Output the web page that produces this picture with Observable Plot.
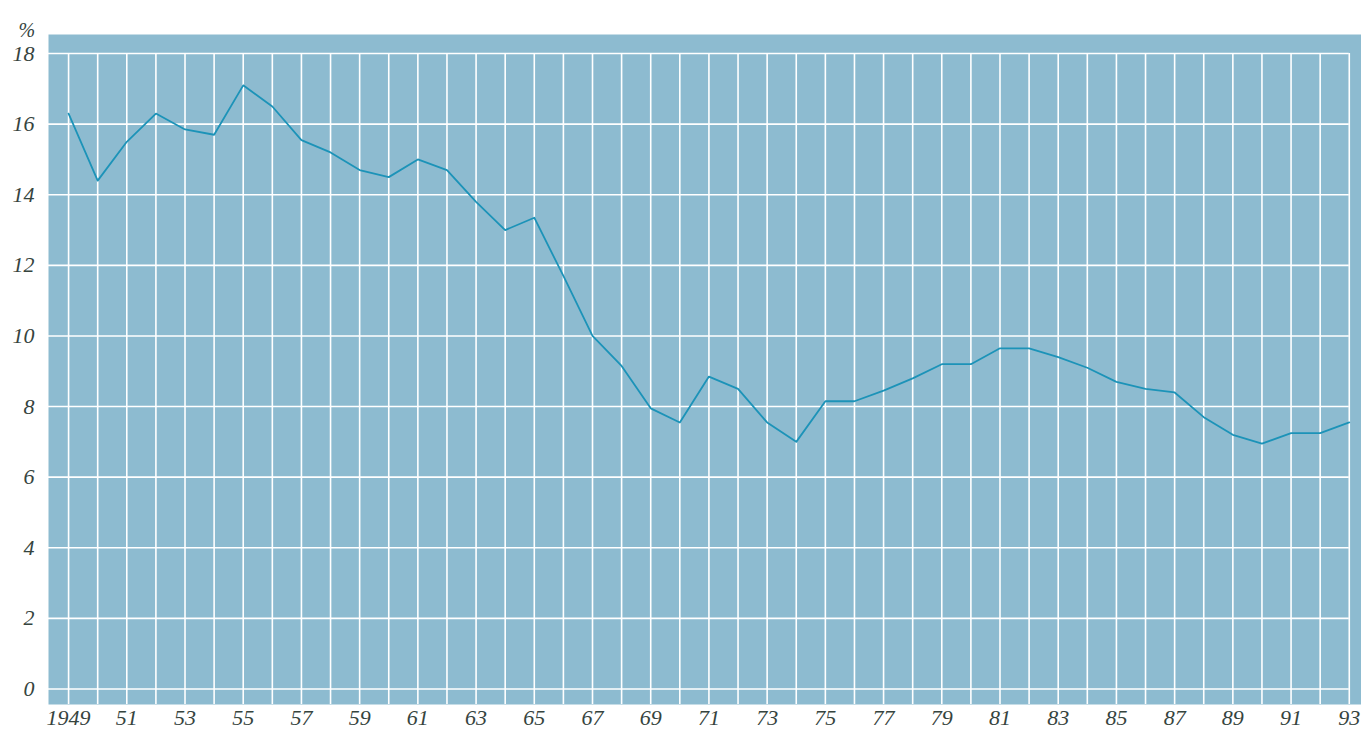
<!DOCTYPE html>
<html>
<head>
<meta charset="utf-8">
<script src="https://cdn.jsdelivr.net/npm/d3@7"></script>
<script src="https://cdn.jsdelivr.net/npm/@observablehq/plot@0.6"></script>
<style>
  html, body { margin: 0; padding: 0; background: #ffffff; }
</style>
</head>
<body>
<div id="chart"></div>
<script>
const years = d3.range(1949, 1994);
const values = [
  16.3, 14.4, 15.5, 16.3, 15.85, 15.7, 17.1, 16.5, 15.55, 15.2,
  14.7, 14.5, 15.0, 14.7, 13.8, 13.0, 13.35, 11.7, 10.0, 9.15,
  7.95, 7.55, 8.85, 8.5, 7.55, 7.0, 8.15, 8.15, 8.45, 8.8,
  9.2, 9.2, 9.65, 9.65, 9.4, 9.1, 8.7, 8.5, 8.4, 7.7,
  7.2, 6.95, 7.25, 7.25, 7.55
];
const yTicks = [0, 2, 4, 6, 8, 10, 12, 14, 16, 18];
const xTicks = d3.range(1949, 1994, 2);
const xTickLabels = xTicks.map(y => y === 1949 ? "1949" : String(y % 100).padStart(2, "0"));
const unitLabel = "%";

const data = years.map((year, i) => ({year, value: values[i]}));

const xLo = 1948.31, xHi = 1993.42;
const yLo = -0.44, yHi = 18.54;
const font = "'Liberation Serif', 'DejaVu Serif', serif";
const textColor = "#36443e";

const chart = Plot.plot({
  width: 1361,
  height: 731,
  marginLeft: 48,
  marginRight: 0,
  marginTop: 34,
  marginBottom: 27,
  style: {fontFamily: font, fontStyle: "italic", color: textColor, background: "#ffffff"},
  x: {type: "linear", domain: [xLo, xHi]},
  y: {domain: [yLo, yHi]},
  marks: [
    Plot.frame({fill: "#8dbbd0", stroke: "none"}),
    Plot.ruleX(years, {x: d => d, y1: yTicks[yTicks.length - 1], y2: yLo, stroke: "#ffffff", strokeWidth: 1.6}),
    Plot.ruleY(yTicks, {y: d => d, x1: xLo, x2: years[years.length - 1], stroke: "#ffffff", strokeWidth: 1.6}),
    Plot.line(data, {x: "year", y: "value", stroke: "#1c93b8", strokeWidth: 1.8}),
    Plot.axisY({ticks: yTicks, tickSize: 0, tickPadding: 14, fontSize: 22, fill: textColor, label: null}),
    Plot.axisX({ticks: xTicks, tickFormat: (d, i) => xTickLabels[xTicks.indexOf(d)], tickSize: 0, tickPadding: 5, fontSize: 22, fill: textColor, label: null}),
    Plot.text([unitLabel], {text: d => d, frameAnchor: "top-left", dx: -30, dy: -12, fontSize: 20, fill: textColor})
  ]
});
document.getElementById("chart").appendChild(chart);
</script>
</body>
</html>
